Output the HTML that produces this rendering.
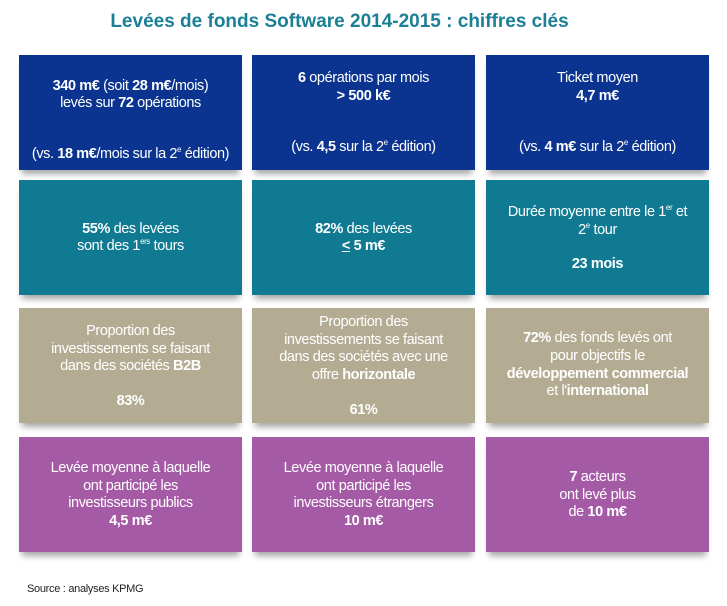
<!DOCTYPE html><html><head><meta charset="utf-8"><style>
body{margin:0;width:727px;height:606px;background:#fff;position:relative;font-family:"Liberation Sans Narrow","Liberation Sans",sans-serif;overflow:hidden}
.t{position:absolute;left:0;width:727px;top:11px;text-align:center;color:#1b7f96;font:bold 19px "Liberation Sans",sans-serif;text-indent:-48px}
.b{position:absolute;width:223px;height:115px;box-shadow:0 7px 6px -3px rgba(0,0,0,.35)}
.l{position:absolute;left:0;width:100%;text-align:center;color:#fff;font-size:14.5px;line-height:17px;letter-spacing:-.4px;white-space:nowrap}
.n{background:#0b3490}.c{background:#0f7a92}.k{background:#b3ac93}.p{background:#a55aa6}
b{font-weight:bold}sup{font-size:8px;line-height:0}
</style></head><body>
<div class="t">Levées de fonds Software 2014-2015 : chiffres clés</div>

<div class="b n" style="left:19px;top:55px"><div class="l" style="top:23px"><b>340 m€</b> (soit <b>28 m€</b>/mois)</div><div class="l" style="top:40px">levés sur <b>72</b> opérations</div><div class="l" style="top:91px">(vs. <b>18 m€</b>/mois sur la 2<sup>e</sup> édition)</div></div>
<div class="b n" style="left:252px;top:55px"><div class="l" style="top:15px"><b>6</b> opérations par mois</div><div class="l" style="top:33px"><b>&gt; 500 k€</b></div><div class="l" style="top:84px">(vs. <b>4,5</b> sur la 2<sup>e</sup> édition)</div></div>
<div class="b n" style="left:486px;top:55px"><div class="l" style="top:15px">Ticket moyen</div><div class="l" style="top:33px"><b>4,7 m€</b></div><div class="l" style="top:84px">(vs. <b>4 m€</b> sur la 2<sup>e</sup> édition)</div></div>

<div class="b c" style="left:19px;top:180px"><div class="l" style="top:41px"><b>55%</b> des levées</div><div class="l" style="top:58px">sont des 1<sup>ers</sup> tours</div></div>
<div class="b c" style="left:252px;top:180px"><div class="l" style="top:41px"><b>82%</b> des levées</div><div class="l" style="top:58px"><b><u>&lt;</u> 5 m€</b></div></div>
<div class="b c" style="left:486px;top:180px"><div class="l" style="top:24px">Durée moyenne entre le 1<sup>er</sup> et</div><div class="l" style="top:42px">2<sup>e</sup> tour</div><div class="l" style="top:76px"><b>23 mois</b></div></div>

<div class="b k" style="left:19px;top:308px"><div class="l" style="top:15px">Proportion des</div><div class="l" style="top:33px">investissements se faisant</div><div class="l" style="top:50px">dans des sociétés <b>B2B</b></div><div class="l" style="top:85px"><b>83%</b></div></div>
<div class="b k" style="left:252px;top:308px"><div class="l" style="top:6px">Proportion des</div><div class="l" style="top:24px">investissements se faisant</div><div class="l" style="top:41px">dans des sociétés avec une</div><div class="l" style="top:59px">offre <b>horizontale</b></div><div class="l" style="top:94px"><b>61%</b></div></div>
<div class="b k" style="left:486px;top:308px"><div class="l" style="top:22px"><b>72%</b> des fonds levés ont</div><div class="l" style="top:40px">pour objectifs le</div><div class="l" style="top:58px"><b>développement commercial</b></div><div class="l" style="top:75px">et l'<b>international</b></div></div>

<div class="b p" style="left:19px;top:437px"><div class="l" style="top:23px">Levée moyenne à laquelle</div><div class="l" style="top:41px">ont participé les</div><div class="l" style="top:58px">investisseurs publics</div><div class="l" style="top:76px"><b>4,5 m€</b></div></div>
<div class="b p" style="left:252px;top:437px"><div class="l" style="top:23px">Levée moyenne à laquelle</div><div class="l" style="top:41px">ont participé les</div><div class="l" style="top:58px">investisseurs étrangers</div><div class="l" style="top:76px"><b>10 m€</b></div></div>
<div class="b p" style="left:486px;top:437px"><div class="l" style="top:32px"><b>7</b> acteurs</div><div class="l" style="top:50px">ont levé plus</div><div class="l" style="top:67px">de <b>10 m€</b></div></div>

<div style="position:absolute;left:27px;top:583px;font-size:11px;color:#222;letter-spacing:-.3px">Source : analyses KPMG</div>
</body></html>
